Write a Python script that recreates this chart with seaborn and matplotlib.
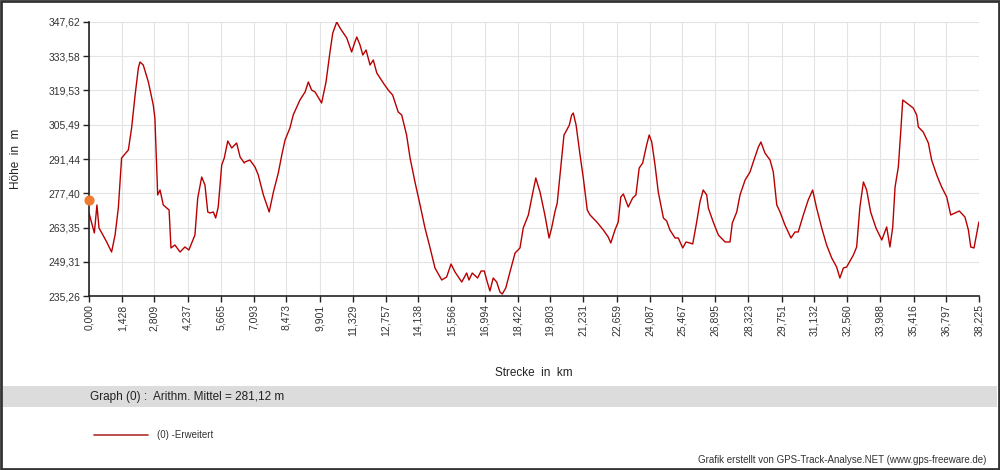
import matplotlib
matplotlib.use("Agg")
import matplotlib.pyplot as plt
from matplotlib.patches import Rectangle
from matplotlib.lines import Line2D
import seaborn as sns
import pandas as pd

sns.set_style("whitegrid")
plt.rcParams["font.family"] = ["Liberation Sans", "DejaVu Sans"]

# Strecke in km / Höhe in m
km = [
    0.00, 0.23, 0.34, 0.43, 0.55, 0.76, 0.97, 1.12, 1.26, 1.37, 1.40, 1.69, 1.83, 1.98, 2.12, 2.19,
    2.33, 2.55, 2.76, 2.83, 2.95, 3.05, 3.19, 3.34, 3.44, 3.52, 3.69, 3.91, 4.12, 4.29, 4.41, 4.55,
    4.67, 4.84, 4.98, 5.10, 5.20, 5.34, 5.44, 5.55, 5.70, 5.81, 5.96, 6.13, 6.34, 6.49, 6.67, 6.70,
    6.91, 7.13, 7.27, 7.49, 7.74, 7.92, 8.13, 8.28, 8.42, 8.63, 8.77, 9.06, 9.28, 9.42, 9.56, 9.71,
    9.99, 10.18, 10.35, 10.47, 10.64, 10.78, 11.07, 11.28, 11.42, 11.50, 11.64, 11.76, 11.90, 12.07,
    12.21, 12.36, 12.64, 12.85, 13.04, 13.22, 13.28, 13.43, 13.64, 13.79, 14.00, 14.22, 14.43, 14.65,
    14.86, 15.15, 15.36, 15.55, 15.72, 16.01, 16.22, 16.32, 16.46, 16.69, 16.84, 16.98, 17.08, 17.22,
    17.36, 17.51, 17.65, 17.75, 17.90, 18.08, 18.30, 18.51, 18.65, 18.87, 19.04, 19.19, 19.37, 19.58,
    19.76, 19.87, 20.01, 20.11, 20.23, 20.40, 20.52, 20.63, 20.73, 20.80, 20.92, 21.09, 21.23, 21.40,
    21.52, 21.81, 22.09, 22.30, 22.41, 22.59, 22.73, 22.84, 22.95, 23.16, 23.35, 23.49, 23.63, 23.78,
    23.95, 24.06, 24.17, 24.31, 24.45, 24.67, 24.81, 24.95, 25.17, 25.31, 25.50, 25.64, 25.81, 25.93,
    26.10, 26.24, 26.38, 26.53, 26.60, 26.81, 27.03, 27.32, 27.53, 27.63, 27.82, 27.96, 28.18, 28.39,
    28.53, 28.75, 28.86, 29.03, 29.25, 29.39, 29.54, 29.68, 29.89, 30.15, 30.32, 30.46, 30.68, 30.89,
    31.08, 31.25, 31.47, 31.68, 31.90, 32.11, 32.25, 32.40, 32.54, 32.83, 32.97, 33.11, 33.26, 33.40,
    33.57, 33.80, 34.05, 34.26, 34.40, 34.52, 34.62, 34.76, 34.86, 34.95, 35.12, 35.40, 35.55, 35.62,
    35.83, 36.05, 36.19, 36.41, 36.62, 36.84, 37.01, 37.19, 37.38, 37.62, 37.77, 37.87, 38.01, 38.13,
    38.22,
]
hoehe = [
    269.30, 261.10, 272.58, 263.15, 261.10, 257.41, 253.30, 260.28, 271.35, 287.75, 291.85, 295.13,
    304.15, 317.68, 328.76, 331.22, 329.99, 323.02, 313.58, 308.25, 276.68, 278.73, 272.58, 271.35,
    270.53, 254.95, 256.18, 253.30, 255.36, 254.12, 257.00, 260.28, 275.45, 284.06, 280.78, 269.71,
    269.30, 269.71, 267.25, 271.76, 288.98, 291.85, 298.82, 295.95, 298.00, 292.26, 289.80, 290.21,
    291.03, 288.16, 284.88, 276.68, 269.71, 277.91, 285.70, 293.08, 299.23, 304.15, 309.48, 315.63,
    318.92, 323.02, 319.74, 318.92, 314.40, 323.02, 335.32, 343.11, 347.62, 345.16, 341.06, 335.32,
    339.42, 341.47, 338.19, 334.09, 336.14, 329.99, 332.04, 326.71, 322.61, 319.74, 317.68, 312.35,
    310.71, 309.48, 301.28, 291.85, 282.01, 272.58, 263.15, 254.95, 246.74, 241.82, 243.05, 248.38,
    245.10, 241.00, 244.69, 241.82, 244.69, 242.64, 245.51, 245.51, 241.82, 237.31, 242.64, 241.00,
    236.90, 236.08, 238.54, 245.10, 252.89, 254.95, 263.15, 268.48, 276.68, 283.65, 277.91, 268.48,
    259.05, 263.15, 269.71, 273.40, 284.88, 301.28, 303.33, 305.38, 309.48, 310.30, 305.38, 293.08,
    283.65, 270.53, 268.48, 265.61, 262.33, 259.46, 257.00, 262.33, 265.61, 275.86, 277.09, 271.76,
    275.45, 276.68, 287.75, 289.80, 297.18, 301.28, 298.41, 288.98, 277.91, 267.25, 266.02, 262.33,
    259.05, 259.05, 254.95, 257.41, 257.00, 256.59, 265.61, 273.81, 278.73, 276.68, 271.35, 265.61,
    260.28, 257.41, 257.41, 265.20, 269.71, 276.68, 282.83, 286.11, 290.21, 296.36, 298.41, 293.90,
    291.03, 286.11, 272.58, 269.71, 264.38, 259.05, 261.51, 261.51, 268.48, 274.63, 278.73, 271.35,
    263.15, 256.18, 250.84, 247.15, 242.64, 246.74, 247.15, 252.07, 255.36, 271.76, 282.01, 278.73,
    269.71, 263.15, 258.23, 263.56, 255.36, 263.56, 279.96, 288.16, 302.10, 315.63, 314.40, 312.35,
    309.48, 304.56, 302.51, 298.00, 291.03, 284.88, 279.96, 275.86, 268.48, 269.30, 270.12, 267.66,
    262.33, 255.36, 254.95, 261.10, 265.61,
]
start_km = [0.0]
start_hoehe = [274.63]

x_ticks = [0.000, 1.428, 2.809, 4.237, 5.665, 7.093, 8.473, 9.901, 11.329, 12.757, 14.138, 15.566,
           16.994, 18.422, 19.803, 21.231, 22.659, 24.087, 25.467, 26.895, 28.323, 29.751, 31.132,
           32.560, 33.988, 35.416, 36.797, 38.225]
y_ticks = [235.26, 249.31, 263.35, 277.40, 291.44, 305.49, 319.53, 333.58, 347.62]


def de(v, n):
    return f"{v:.{n}f}".replace(".", ",")


df = pd.DataFrame({"km": km, "hoehe": hoehe})

fig = plt.figure(figsize=(10, 4.7), dpi=100)
ax = fig.add_axes([0.089, 0.3702, 0.890, 0.5830])

sns.lineplot(data=df, x="km", y="hoehe", ax=ax, color="#b80000", linewidth=1.0,
             estimator=None, sort=False)
ax.scatter(start_km, start_hoehe, s=40, color="#f07a30", zorder=5, clip_on=False)

ax.set_xlim(x_ticks[0], x_ticks[-1])
ax.set_ylim(y_ticks[0], y_ticks[-1])
ax.set_xticks(x_ticks)
ax.set_xticklabels([de(v, 3) for v in x_ticks], rotation=90, fontsize=7.5, color="#333333")
ax.set_yticks(y_ticks)
ax.set_yticklabels([de(v, 2) for v in y_ticks], fontsize=7.5, color="#333333")

ax.grid(True, color="#e3e3e3", linewidth=0.8)
for side in ["top", "right"]:
    ax.spines[side].set_visible(False)
for side in ["left", "bottom"]:
    ax.spines[side].set_color("#222222")
    ax.spines[side].set_linewidth(1.2)
ax.tick_params(axis="both", direction="out", length=4, width=1, color="#222222", pad=2,
               left=True, bottom=True)

ax.set_xlabel("Strecke  in  km", fontsize=8.5, color="#222222", labelpad=22)
ax.set_ylabel("Höhe  in  m", fontsize=8.5, color="#222222", labelpad=19)

# statistics band
fig.add_artist(Rectangle((0.003, 1 - 407 / 470), 0.994, 21 / 470, transform=fig.transFigure,
                         facecolor="#dcdcdc", edgecolor="none"))
fig.text(0.090, 1 - 397 / 470, "Graph (0) :  Arithm. Mittel = 281,12 m", fontsize=8.5,
         color="#222222", va="center", ha="left")

# legend
fig.add_artist(Line2D([0.094, 0.148], [1 - 435 / 470] * 2, transform=fig.transFigure,
                      color="#b03030", linewidth=1.2))
fig.text(0.157, 1 - 435 / 470, "(0) -Erweitert", fontsize=7, color="#333333",
         va="center", ha="left")

fig.text(0.986, 1 - 460 / 470, "Grafik erstellt von GPS-Track-Analyse.NET (www.gps-freeware.de)",
         fontsize=7, color="#333333", va="center", ha="right")

# outer frame
fig.add_artist(Rectangle((0.001, 0.002), 0.998, 0.996, transform=fig.transFigure,
                         facecolor="none", edgecolor="#333333", linewidth=2))

fig.savefig("out.png", dpi=100, facecolor="white")
